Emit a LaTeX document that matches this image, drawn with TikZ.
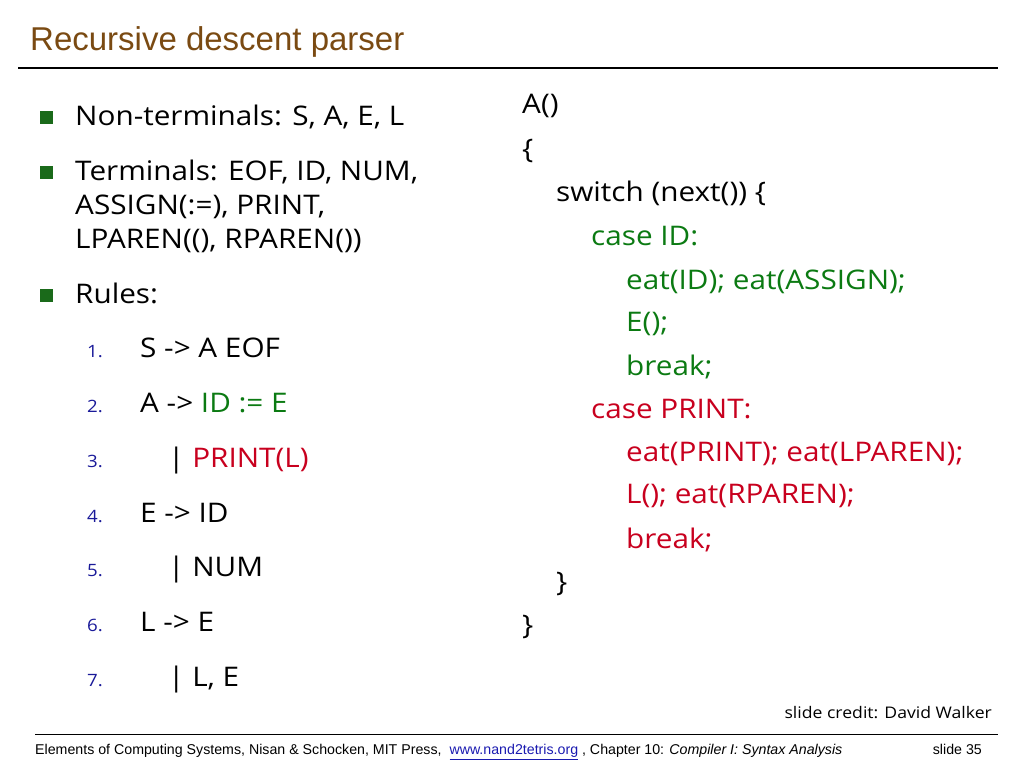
\documentclass[tikz,border=0pt]{standalone}
\usepackage{fontspec}
\setmainfont{Open Sans}[FakeStretch=1.1]
\newfontfamily\arialf{Liberation Sans}
\definecolor{titlec}{HTML}{7A4A12}
\definecolor{bulc}{HTML}{1A6A1A}
\definecolor{grn}{HTML}{0B7A12}
\definecolor{rd}{HTML}{C8001E}
\definecolor{numc}{HTML}{1A1A99}
\definecolor{lnk}{HTML}{1A1AB0}
\begin{document}
\begin{tikzpicture}[x=1pt,y=-1pt,
 txt/.style={anchor=mid west,inner sep=0pt,font=\fontsize{27}{30}\selectfont},
 num/.style={anchor=mid west,inner sep=0pt,text=numc,font=\fontsize{17}{20}\selectfont},
 bul/.style={fill=bulc,minimum size=13pt,inner sep=0pt}]
\useasboundingbox (0,0) rectangle (1024,768);
\node[anchor=west,inner sep=0pt,text=titlec,font=\arialf\fontsize{33}{38}\selectfont] (title) at (30,42) {Recursive descent parser};
\draw[line width=2.5pt] (18,68) -- (998,68);
\node[bul] (b1) at (46,117) {};
\node[bul] (b2) at (46,172) {};
\node[bul] (b3) at (46,295) {};
\begin{scope}[yshift=-6pt]
\node[txt] (t1) at (75,117) {Non-terminals: S, A, E, L};
\node[txt] (t2) at (75,172) {Terminals: EOF, ID, NUM,};
\node[txt] (t3) at (75,206) {ASSIGN(:=), PRINT,};
\node[txt] (t4) at (75,240) {LPAREN((), RPAREN())};
\node[txt] (t5) at (75,295) {Rules:};
\foreach \n/\y in {1/349,2/404,3/459,4/514,5/568,6/623,7/678}
  \node[num] (n\n) at (87,\y) {\n.};
\node[txt] (r1) at (140,349) {S -> A EOF};
\node[txt] (r2) at (140,404) {A -> \textcolor{grn}{ID := E}};
\node[txt] (r3) at (168,459) {| \textcolor{rd}{PRINT(L)}};
\node[txt] (r4) at (140,514) {E -> ID};
\node[txt] (r5) at (168,568) {| NUM};
\node[txt] (r6) at (140,623) {L -> E};
\node[txt] (r7) at (168,678) {| L, E};
\node[txt] (c1) at (522,105) {A()};
\node[txt] (c2) at (522,150) {\{};
\node[txt] (c3) at (556,193) {switch (next()) \{};
\node[txt,text=grn] (c4) at (591,237) {case ID:};
\node[txt,text=grn] (c5) at (626,281) {eat(ID); eat(ASSIGN);};
\node[txt,text=grn] (c6) at (626,323) {E();};
\node[txt,text=grn] (c7) at (626,367) {break;};
\node[txt,text=rd] (c8) at (591,410) {case PRINT:};
\node[txt,text=rd] (c9) at (626,453) {eat(PRINT); eat(LPAREN);};
\node[txt,text=rd] (c10) at (626,495) {L(); eat(RPAREN);};
\node[txt,text=rd] (c11) at (626,540) {break;};
\node[txt] (c12) at (556,583) {\}};
\node[txt] (c13) at (522,626) {\}};
\end{scope}
\node[anchor=mid east,inner sep=0pt,font=\fontsize{16}{19}\selectfont] (credit) at (992,716) {slide credit: David Walker};
\draw[line width=0.8pt] (35,734) -- (998,734);
\node[anchor=mid west,inner sep=0pt,font=\arialf\fontsize{14.2}{16}\selectfont] (foot) at (35,752) {Elements of Computing Systems, Nisan \& Schocken, MIT Press, \ \textcolor{lnk}{\underline{www.nand2tetris.org}} , Chapter 10: \textit{Compiler I: Syntax Analysis}};
\node[anchor=mid east,inner sep=0pt,font=\arialf\fontsize{14.2}{16}\selectfont] (slide) at (982,752) {slide 35};
\end{tikzpicture}
\end{document}
